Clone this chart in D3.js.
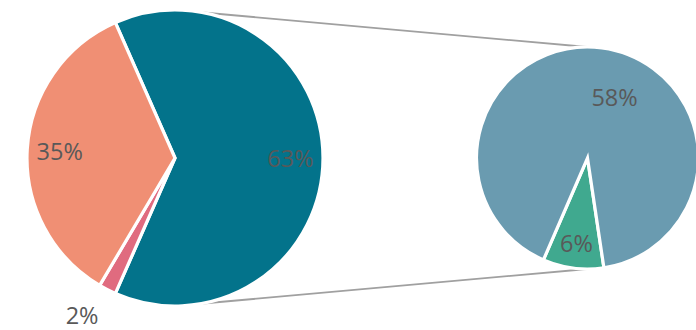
<!DOCTYPE html>
<html><head><meta charset="utf-8">
<script src="https://cdn.jsdelivr.net/npm/d3@7"></script>
<style>html,body{margin:0;padding:0;background:#fff;overflow:hidden}</style>
</head><body><svg id="c" width="696" height="330"></svg>
<script>
// Main pie: "Other" (split into secondary pie) + two direct slices
const mainCategories = ["Other", "B", "A"];
const mainValues = [63.2, 1.9, 34.9];
const mainColors = ["#03738b", "#e06b7f", "#f08f74"];
// Secondary pie
const subCategories = ["D", "C"];
const subValues = [5.6, 57.6];
const subColors = ["#40a98f", "#6a9bb0"];
const total = d3.sum(mainValues);

const svg = d3.select("#c");
const cy = 158;
const c1 = {x: 175, y: cy, r: 148};
const c2 = {x: 587.5, y: cy, r: 111};
const toRad = d => d * Math.PI / 180;

// connector lines (behind pies)
const lines = svg.append("g");
[[c1.y - c1.r, c2.y - c2.r], [c1.y + c1.r, c2.y + c2.r]].forEach(([y1, y2]) => {
  lines.append("line").attr("x1", c1.x).attr("y1", y1).attr("x2", c2.x).attr("y2", y2)
    .attr("stroke", "#a0a0a0").attr("stroke-width", 1.8);
});

// main pie: Other slice centered pointing right
const otherAngle = mainValues[0] / total * 2 * Math.PI;
const s1 = Math.PI / 2 - otherAngle / 2;
const pie1 = d3.pie().sort(null).startAngle(s1).endAngle(s1 + 2 * Math.PI);
const arcs1 = pie1(mainValues);
const arc1 = d3.arc().innerRadius(0).outerRadius(c1.r);
const g1 = svg.append("g").attr("transform", `translate(${c1.x},${c1.y})`);
g1.selectAll("path").data(arcs1).join("path")
  .attr("d", arc1).attr("fill", (d, i) => mainColors[i])
  .attr("stroke", "#fff").attr("stroke-width", 3.2).attr("stroke-linejoin", "miter");

// secondary pie
const s2 = toRad(171.5);
const pie2 = d3.pie().sort(null).startAngle(s2).endAngle(s2 + 2 * Math.PI);
const arcs2 = pie2(subValues);
const arc2 = d3.arc().innerRadius(0).outerRadius(c2.r);
const g2 = svg.append("g").attr("transform", `translate(${c2.x},${c2.y})`);
g2.selectAll("path").data(arcs2).join("path")
  .attr("d", arc2).attr("fill", (d, i) => subColors[i])
  .attr("stroke", "#fff").attr("stroke-width", 3.2).attr("stroke-linejoin", "miter");

const fmt = v => Math.round(v / total * 100) + "%";
const font = "'Open Sans', sans-serif";
function label(g, x, y, t) {
  g.append("text").attr("x", x).attr("y", y).attr("text-anchor", "middle")
    .attr("dominant-baseline", "central").attr("font-family", font)
    .attr("font-size", 23.5).attr("fill", "#595959").text(t);
}
function polar(r, a) { return [r * Math.sin(a), -r * Math.cos(a)]; }
arcs1.forEach((d, i) => {
  const mid = (d.startAngle + d.endAngle) / 2;
  let p;
  if (i === 1) p = polar(c1.r * 1.23, mid + toRad(3.5));
  else p = polar(c1.r * 0.78, mid);
  label(g1, p[0], p[1], fmt(mainValues[i]));
});
arcs2.forEach((d, i) => {
  const mid = (d.startAngle + d.endAngle) / 2;
  let p;
  if (i === 0) p = polar(c2.r * 0.77, mid);
  else p = polar(c2.r * 0.6, toRad(24));
  label(g2, p[0], p[1], fmt(subValues[i]));
});
</script></body></html>
